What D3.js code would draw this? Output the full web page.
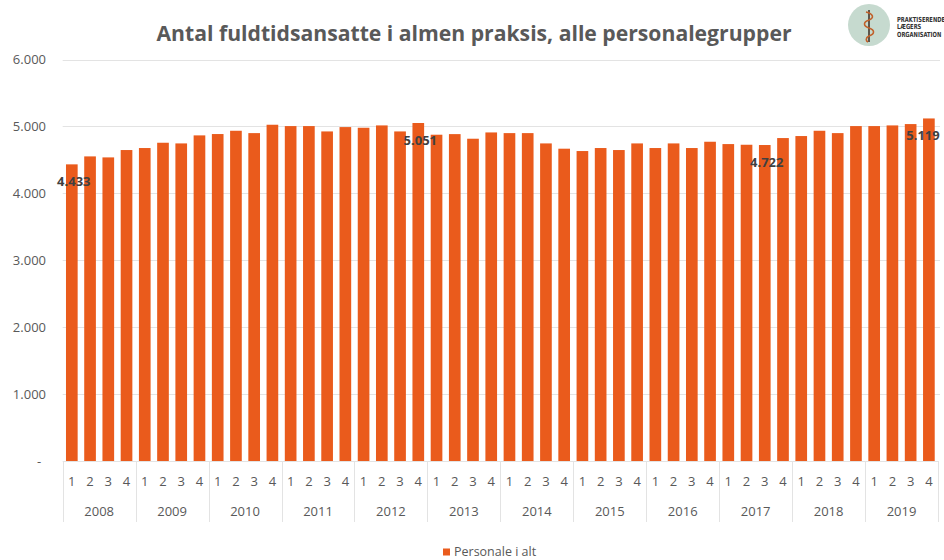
<!DOCTYPE html>
<html>
<head>
<meta charset="utf-8">
<script src="https://cdn.jsdelivr.net/npm/d3@7"></script>
<style>
  body { margin: 0; background: #fff; }
  svg { font-family: "Open Sans", "Liberation Sans", sans-serif; }
</style>
</head>
<body>
<svg id="chart" width="944" height="560"></svg>
<script>
// data
var years = ['2008','2009','2010','2011','2012','2013','2014','2015','2016','2017','2018','2019'];
var quarters = ['1','2','3','4'];
var personale = [
  4433, 4552, 4537, 4647,
  4677, 4756, 4746, 4866,
  4886, 4935, 4900, 5025,
  5005, 5005, 4925, 4990,
  4980, 5015, 4925, 5051,
  4876, 4885, 4816, 4910,
  4900, 4900, 4746, 4667,
  4632, 4677, 4647, 4746,
  4677, 4746, 4677, 4771,
  4736, 4726, 4722, 4826,
  4856, 4935, 4900, 5005,
  5005, 5015, 5035, 5119
];
var labelled = [0, 19, 38, 47];
var yTicks = [0, 1000, 2000, 3000, 4000, 5000, 6000];

var textColor = '#595959';
var barColor = '#EA5B1C';
var fmt = function(v) { return v === 0 ? '-' : d3.format(',')(v).replace(/,/g, '.'); };

var svg = d3.select('#chart');
var plotLeft = 62.7, plotRight = 938, plotTop = 59.5, plotBottom = 461;

var keys = [];
years.forEach(function(y) { quarters.forEach(function(q) { keys.push(y + '-' + q); }); });

var x = d3.scaleBand().domain(keys).range([plotLeft, plotRight]).paddingInner(0.36).paddingOuter(0.18);
var y = d3.scaleLinear().domain([0, 6000]).range([plotBottom, plotTop]);

// gridlines
svg.append('g').selectAll('line')
  .data(yTicks.filter(function(d) { return d > 0; }))
  .enter().append('line')
  .attr('x1', plotLeft).attr('x2', 940)
  .attr('y1', function(d) { return Math.round(y(d)) + 0.5; })
  .attr('y2', function(d) { return Math.round(y(d)) + 0.5; })
  .attr('stroke', '#e3e3e3').attr('stroke-width', 1);

// y labels
svg.append('g').selectAll('text')
  .data(yTicks)
  .enter().append('text')
  .attr('x', function(d) { return d === 0 ? 39 : 46; })
  .attr('y', function(d) { return y(d); })
  .attr('dy', '0.35em')
  .attr('text-anchor', function(d) { return d === 0 ? 'middle' : 'end'; })
  .attr('font-size', 13)
  .attr('fill', textColor)
  .text(fmt);

// bars
svg.append('g').selectAll('rect')
  .data(personale)
  .enter().append('rect')
  .attr('x', function(d, i) { return x(keys[i]); })
  .attr('width', x.bandwidth())
  .attr('y', function(d) { return y(d); })
  .attr('height', function(d) { return plotBottom - y(d); })
  .attr('fill', barColor);

// data labels
svg.append('g').selectAll('text')
  .data(labelled)
  .enter().append('text')
  .attr('x', function(i) { return Math.min(x(keys[i]) + x.bandwidth() / 2 + 2, 923); })
  .attr('y', function(i) { return y(personale[i]) + 17; })
  .attr('dy', '0.35em')
  .attr('text-anchor', 'middle')
  .attr('font-size', 13)
  .attr('font-weight', 'bold')
  .attr('fill', '#404040')
  .text(function(i) { return fmt(personale[i]); });

// category axis
var cat = svg.append('g');
cat.append('line')
  .attr('x1', plotLeft).attr('x2', plotRight).attr('y1', plotBottom + 0.5).attr('y2', plotBottom + 0.5)
  .attr('stroke', '#e3e3e3');
cat.selectAll('text.q')
  .data(keys)
  .enter().append('text')
  .attr('class', 'q')
  .attr('x', function(d) { return x(d) + x.bandwidth() / 2; })
  .attr('y', 481)
  .attr('dy', '0.35em')
  .attr('text-anchor', 'middle')
  .attr('font-size', 13)
  .attr('fill', textColor)
  .text(function(d) { return d.split('-')[1]; });

var yearBand = d3.scaleBand().domain(years).range([plotLeft, plotRight]);
cat.selectAll('text.y')
  .data(years)
  .enter().append('text')
  .attr('class', 'y')
  .attr('x', function(d) { return yearBand(d) + yearBand.bandwidth() / 2; })
  .attr('y', 511)
  .attr('dy', '0.35em')
  .attr('text-anchor', 'middle')
  .attr('font-size', 13)
  .attr('fill', textColor)
  .text(function(d) { return d; });

cat.selectAll('line.sep')
  .data(years.concat(['end']))
  .enter().append('line')
  .attr('class', 'sep')
  .attr('x1', function(d, i) { return Math.round(plotLeft + i * yearBand.step()) + 0.5; })
  .attr('x2', function(d, i) { return Math.round(plotLeft + i * yearBand.step()) + 0.5; })
  .attr('y1', plotBottom).attr('y2', 522)
  .attr('stroke', '#e3e3e3');

// title
svg.append('text')
  .attr('x', 474).attr('y', 33)
  .attr('dy', '0.35em')
  .attr('text-anchor', 'middle')
  .attr('font-size', 22)
  .attr('font-weight', 'bold')
  .attr('fill', textColor)
  .attr('textLength', 635)
  .attr('lengthAdjust', 'spacingAndGlyphs')
  .text('Antal fuldtidsansatte i almen praksis, alle personalegrupper');

// logo
var logo = svg.append('g');
logo.append('circle').attr('cx', 869).attr('cy', 25).attr('r', 21).attr('fill', '#c6dacf');
logo.append('line').attr('x1', 869).attr('x2', 869).attr('y1', 10).attr('y2', 42)
  .attr('stroke', '#3a2a20').attr('stroke-width', 1.5);
logo.append('path')
  .attr('d', 'M866,12 C874,14 874,18 869,20 C863,22 863,26 869,28 C875,30 875,34 869,36 C865,38 866,41 868,42')
  .attr('fill', 'none').attr('stroke', '#c0602a').attr('stroke-width', 1.6);
logo.selectAll('text')
  .data(['PRAKTISERENDE', 'LÆGERS', 'ORGANISATION'])
  .enter().append('text')
  .attr('x', 897)
  .attr('y', function(d, i) { return 19.5 + i * 7.3; })
  .attr('dy', '0.35em')
  .attr('font-size', 7)
  .attr('font-weight', 'bold')
  .attr('font-family', '"DejaVu Sans Condensed", "Liberation Sans Narrow", sans-serif')
  .attr('fill', '#333')
  .attr('transform', 'translate(' + (897 * 0.18) + ',0) scale(0.82,1)')
  .text(function(d) { return d; });

// legend
svg.append('rect').attr('x', 443).attr('y', 548.5).attr('width', 7).attr('height', 7).attr('fill', barColor);
svg.append('text')
  .attr('x', 454).attr('y', 551.5)
  .attr('dy', '0.35em')
  .attr('font-size', 12.5)
  .attr('fill', textColor)
  .text('Personale i alt');
</script>
</body>
</html>
